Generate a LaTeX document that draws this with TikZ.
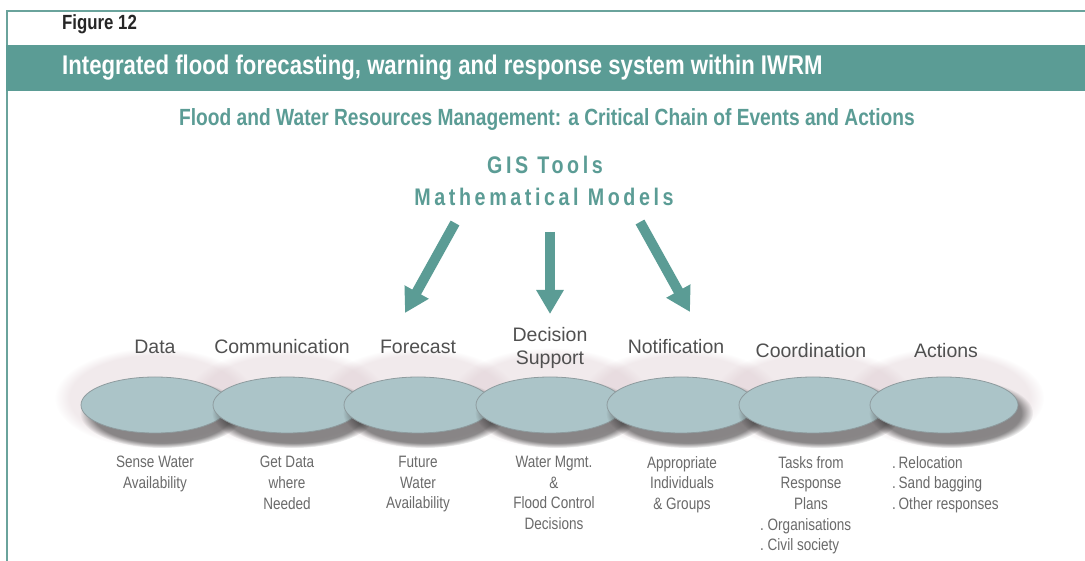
\documentclass[tikz,border=0pt]{standalone}
\usepackage{fontspec}
\setmainfont{Liberation Sans}[FakeStretch=0.82]
\newfontfamily\widefont{Liberation Sans}
\usetikzlibrary{arrows.meta,shapes.geometric,fadings,calc}
\definecolor{tealmain}{HTML}{5B9C95}
\definecolor{tealline}{HTML}{6AA39C}
\definecolor{ellfill}{HTML}{ABC4C8}
\definecolor{elldraw}{HTML}{8E9B9E}
\definecolor{labgray}{HTML}{505050}
\definecolor{subgray}{HTML}{6A6A6A}
\definecolor{haze}{HTML}{D8C4CA}
\tikzset{
  chain/.style={ellipse, fill=ellfill, draw=elldraw, line width=0.8pt,
    minimum width=148pt, minimum height=56pt, inner sep=0pt},
  steplabel/.style={text=labgray, font=\widefont\fontsize{19.5}{23}\selectfont, align=center, inner sep=0pt},
  subtext/.style={text=subgray, font=\fontsize{16.5}{20.7}\selectfont, align=center, anchor=north, inner sep=0pt},
  bigarrow/.style={draw=tealmain, line width=10pt, -{Triangle[width=26pt,length=24pt]}, fill=tealmain},
  gistext/.style={text=tealmain, font=\bfseries\fontsize{24}{32}\selectfont\addfontfeature{LetterSpace=15}, inner sep=0pt}
}
\begin{document}
\begin{tikzpicture}[x=1pt,y=-1pt]
\useasboundingbox (0,0) rectangle (1085,561);
\fill[white] (0,0) rectangle (1085,561);
% frame
\draw[tealline, line width=2.5pt] (7,561) -- (7,11) -- (1085,11);
\fill[tealmain] (6,45) rectangle (1085,91);
\node[anchor=west, inner sep=0pt, text=black!85, font=\bfseries\fontsize{20.5}{24}\selectfont] (fig) at (62,24) {Figure 12};
\node[anchor=west, inner sep=0pt, text=white, font=\bfseries\fontsize{27}{30}\selectfont] (title) at (62,68) {Integrated flood forecasting, warning and response system within IWRM};
\node[inner sep=0pt, text=tealmain, font=\bfseries\fontsize{23.4}{26}\selectfont] (sub) at (547,120) {Flood and Water Resources Management: a Critical Chain of Events and Actions};
\node[gistext] (gis) at (545,165) {GIS Tools};
\node[gistext] (math) at (544,197) {Mathematical Models};
% arrows
\coordinate (a1s) at (455,223); \coordinate (a1e) at (405,313);
\coordinate (a2s) at (550,232); \coordinate (a2e) at (550,314);
\coordinate (a3s) at (640,222); \coordinate (a3e) at (690,312);
\draw[bigarrow] (a1s) -- (a1e);
\draw[bigarrow] (a2s) -- (a2e);
\draw[bigarrow] (a3s) -- (a3e);
% haze
\foreach \x in {155,287,418,550,681,813,944}{
  \fill[haze, opacity=0.35, path fading=circle with fuzzy edge 15 percent] (\x,398) ellipse [x radius=100, y radius=50];
}
% ellipses with shadows
\foreach \x/\n in {155/e1,287/e2,418/e3,550/e4,681/e5,813/e6,944/e7}{
  \fill[black!80, opacity=0.55, path fading=circle with fuzzy edge 15 percent] (\x+7,413) ellipse [x radius=82, y radius=35];
  \node[chain] (\n) at (\x,405) {};
}
% labels
\node[steplabel] (l1) at (155,347) {Data};
\node[steplabel] (l2) at (282,347) {Communication};
\node[steplabel] (l3) at (418,347) {Forecast};
\node[steplabel] (l4) at (550,348) {Decision\\Support};
\node[steplabel] (l5) at (676,347) {Notification};
\node[steplabel] (l6) at (811,351) {Coordination};
\node[steplabel] (l7) at (946,351) {Actions};
% sub texts
\node[subtext] (s1) at (155,456) {Sense Water\\Availability};
\node[subtext] (s2) at (287,456) {Get Data\\where\\Needed};
\node[subtext] (s3) at (418,456) {Future\\Water\\Availability};
\node[subtext] (s4) at (554,456) {Water Mgmt.\\\&\\Flood Control\\Decisions};
\node[subtext] (s5) at (682,456) {Appropriate\\Individuals\\\& Groups};
\node[subtext] (s6) at (811,456) {Tasks from\\Response\\Plans};
\node[subtext, anchor=north west, align=left] (s6b) at (760,518) {.\ Organisations\\.\ Civil society};
\node[subtext, anchor=north west, align=left] (s7) at (892,456) {.\,Relocation\\.\,Sand bagging\\.\,Other responses};
\end{tikzpicture}
\end{document}
